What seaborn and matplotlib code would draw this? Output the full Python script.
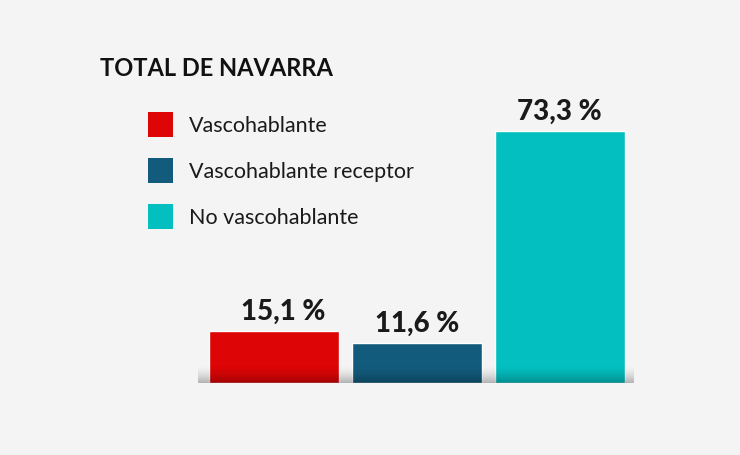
import numpy as np
import pandas as pd
import matplotlib
matplotlib.use("Agg")
import matplotlib.pyplot as plt
from matplotlib.patches import Patch
import seaborn as sns

categories = ["Vascohablante", "Vascohablante receptor", "No vascohablante"]
values = [15.1, 11.6, 73.3]
value_labels = ["15,1 %", "11,6 %", "73,3 %"]
colors = ["#dd0505", "#135b7d", "#04bfc0"]
title = "TOTAL DE NAVARRA"

sns.set_theme(style="white")
plt.rcParams["font.family"] = ["Lato", "DejaVu Sans"]

bg = "#f4f4f4"
fig = plt.figure(figsize=(7.4, 4.55), dpi=100, facecolor=bg)
ax = fig.add_axes([195.4 / 740, (455 - 383) / 455, 443 / 740, 275 / 455])
ax.set_facecolor(bg)

df = pd.DataFrame({"cat": categories, "val": values})
sns.barplot(data=df, x="cat", y="val", hue="cat", palette=colors,
            width=0.91, saturation=1, legend=False, ax=ax, zorder=2)

ax.set_xticks([])
ax.set_yticks([])
ax.set_xlabel("")
ax.set_ylabel("")
for s in ax.spines.values():
    s.set_visible(False)

# bottom shadow gradient
n = 64
t = np.linspace(0, 1, n)  # 0 at top row, 1 at bottom row
img = np.zeros((n, 1, 4))
img[:, 0, 3] = 0.27 * t ** 1.6
ax.imshow(img, extent=(-0.53, 2.52, 0, 5), aspect="auto", origin="upper",
          zorder=3, interpolation="bilinear")
ax.set_xlim(-0.55, 2.55)
ax.set_ylim(0, 80)

x_offsets = [9, 0, 0]
for i, (v, lab) in enumerate(zip(values, value_labels)):
    ax.annotate(lab, (i, v), xytext=(x_offsets[i] * 0.72, 8), textcoords="offset points",
                ha="center", va="baseline", fontsize=20, fontweight="black",
                color="#1a1a1a")

fig.text(100 / 740, 1 - 69 / 455, title, ha="left", va="center",
         fontsize=17, fontweight="bold", color="#111111")

fs = 15.5
fpx = fs / 72 * 100
hl = 25 / fpx
hh = (hl - 0.245) / 0.65
handles = [Patch(facecolor=c, edgecolor="none") for c in colors]
fig.legend(handles, categories, loc="upper left",
           bbox_to_anchor=(148 / 740, 1 - 112 / 455), frameon=False,
           fontsize=fs, handlelength=hl, handleheight=hh,
           labelspacing=0.98, handletextpad=16 / fpx, borderpad=0, borderaxespad=0,
           labelcolor="#1a1a1a")

fig.savefig("out.png", dpi=100, facecolor=bg)
